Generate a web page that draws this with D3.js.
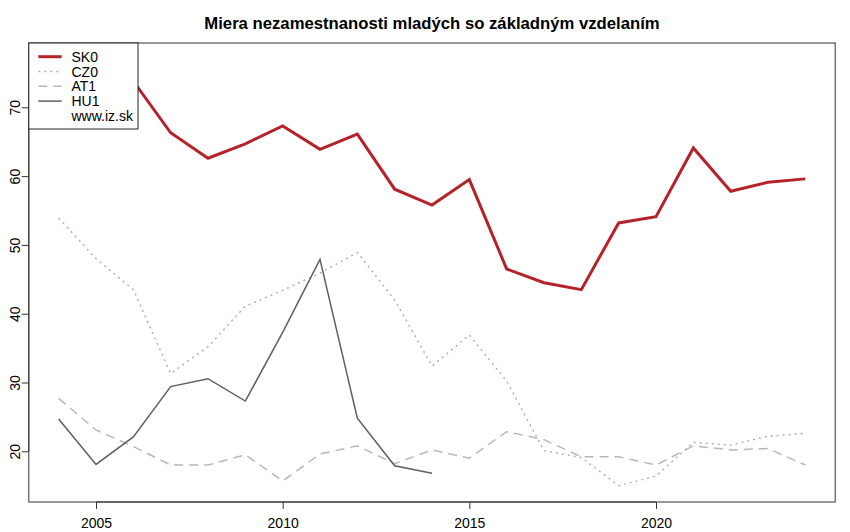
<!DOCTYPE html>
<html><head><meta charset="utf-8">
<script src="https://cdn.jsdelivr.net/npm/d3@7"></script>
<style>body{margin:0;background:#fff}svg{display:block;font-family:"Liberation Sans",Arial,sans-serif}</style>
</head><body><svg id="c" width="850" height="532"></svg>
<script>
const years = d3.range(2004, 2025);
const SK0 = [76.9, 75.5, 73.8, 66.3, 62.6, 64.7, 67.3, 63.9, 66.1, 58.1, 55.8, 59.5, 46.5, 44.5, 43.5, 53.2, 54.1, 64.1, 57.8, 59.1, 59.6];
const CZ0 = [53.9, 48.0, 43.5, 31.3, 35.2, 41.1, 43.4, 45.9, 48.9, 42.0, 32.4, 36.9, 30.2, 20.1, 19.1, 15.0, 16.4, 21.3, 20.9, 22.2, 22.6];
const AT1 = [27.7, 23.1, 20.7, 18.0, 18.0, 19.5, 15.7, 19.6, 20.8, 18.2, 20.2, 19.0, 22.85, 21.7, 19.2, 19.2, 18.0, 20.8, 20.2, 20.4, 18.0];
const HU1 = [24.7, 18.1, 22.1, 29.4, 30.55, 27.3, 37.3, 47.9, 24.8, 17.9, 16.8];
const xTicks = [2005, 2010, 2015, 2020];
const yTicks = [20, 30, 40, 50, 60, 70];
const title = "Miera nezamestnanosti mladých so základným vzdelaním";
const legendLabels = ["SK0", "CZ0", "AT1", "HU1", "www.iz.sk"];

const svg = d3.select("#c");
const L = 28.8, R = 835.2, T = 43, B = 502;
const x = d3.scaleLinear().domain([2003.2, 2024.8]).range([L, R]);
const y = d3.scaleLinear().domain([12.63, 79.35]).range([B, T]);

const series = [
  {name:"SK0", vals:SK0, color:"#b5232a", w:3, dash:null},
  {name:"CZ0", vals:CZ0, color:"#aeb1b8", w:1.5, dash:"2,4"},
  {name:"AT1", vals:AT1, color:"#b4b8bf", w:1.5, dash:"9,6"},
  {name:"HU1", vals:HU1, color:"#5e5e5e", w:1.5, dash:null}
];

const line = d3.line().x(d => x(d[0])).y(d => y(d[1]));
[series[2], series[1], series[3], series[0]].forEach(s => {
  svg.append("path")
    .attr("d", line(s.vals.map((v,i) => [years[i], v])))
    .attr("fill","none").attr("stroke", s.color).attr("stroke-width", s.w)
    .attr("stroke-dasharray", s.dash).attr("stroke-linejoin","miter");
});

svg.append("rect").attr("x",L).attr("y",T).attr("width",R-L).attr("height",B-T)
  .attr("fill","none").attr("stroke","#333").attr("stroke-width",1);

const xa = svg.append("g").attr("transform",`translate(0,${B})`)
  .call(d3.axisBottom(x).tickValues(xTicks).tickFormat(d3.format("d")).tickSize(7));
xa.select(".domain").attr("d", `M${x(xTicks[0])},0H${x(xTicks[xTicks.length-1])}`).attr("stroke","#333");
xa.selectAll(".tick line").attr("stroke","#333");
xa.selectAll("text").attr("font-size",14).attr("fill","#000").attr("dy",null).attr("y",26)
  .attr("font-family","Liberation Sans, Arial, sans-serif");

const ya = svg.append("g").attr("transform",`translate(${L},0)`)
  .call(d3.axisLeft(y).tickValues(yTicks).tickSize(7));
ya.select(".domain").attr("d", `M0,${y(yTicks[0])}V${y(yTicks[yTicks.length-1])}`).attr("stroke","#333");
ya.selectAll(".tick line").attr("stroke","#333");
ya.selectAll("text").attr("font-size",14).attr("fill","#000")
  .attr("font-family","Liberation Sans, Arial, sans-serif")
  .attr("text-anchor","middle").attr("dy",null).attr("x",0).attr("y",0)
  .attr("transform","translate(-14,0) rotate(-90)")
  .attr("dominant-baseline","central");

svg.append("text").attr("x",(L+R)/2).attr("y",29).attr("text-anchor","middle")
  .attr("font-size",16.7).attr("font-weight","bold").text(title);

const lg = svg.append("g");
lg.append("rect").attr("x",L).attr("y",T).attr("width",138-L).attr("height",129-T)
  .attr("fill","#fff").attr("stroke","#222").attr("stroke-width",1);
legendLabels.forEach((lab,i) => {
  const cy = 56.7 + i*14.8;
  const s = series[i];
  if (s) {
    lg.append("line").attr("x1",38.3).attr("x2",61.7).attr("y1",cy).attr("y2",cy)
      .attr("stroke",s.color).attr("stroke-width",s.w).attr("stroke-dasharray",s.dash);
  }
  lg.append("text").attr("x",71.5).attr("y",cy).attr("dominant-baseline","central")
    .attr("font-size",14).text(lab);
});
</script></body></html>
